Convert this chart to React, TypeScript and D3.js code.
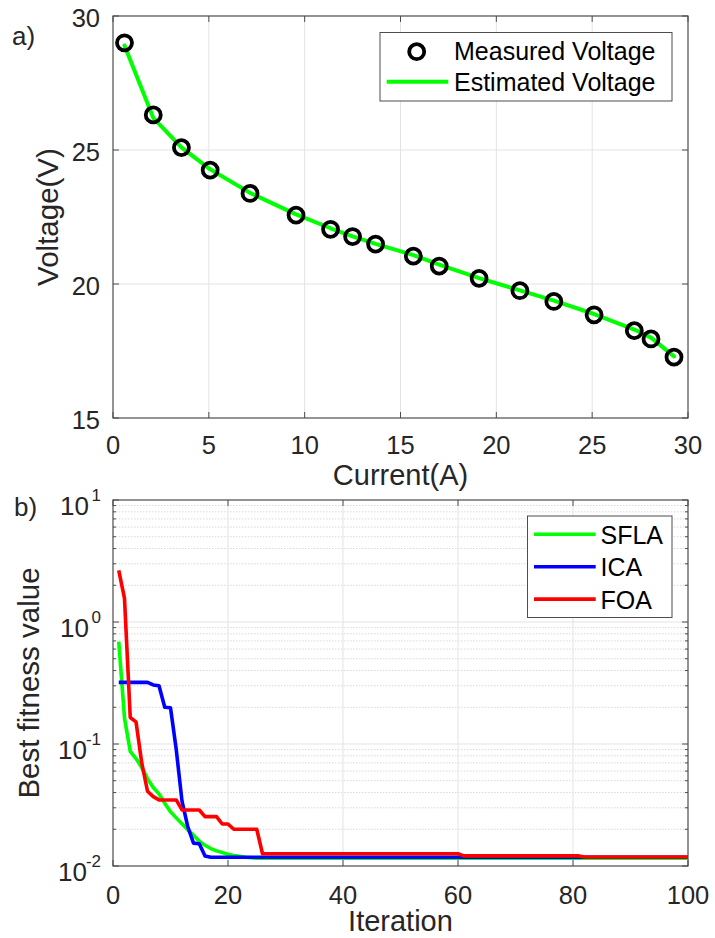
import React from "react";
import * as d3 from "d3";

// ---------- data: panel a ----------
const currentA = [0.6, 2.1, 3.57, 5.07, 7.15, 9.55, 11.35, 12.5, 13.7, 15.67, 17.02, 19.1, 21.23, 23.0, 25.1, 27.2, 28.07, 29.27];
const measuredVoltage = [29.0, 26.31, 25.09, 24.25, 23.38, 22.57, 22.04, 21.77, 21.49, 21.04, 20.67, 20.21, 19.75, 19.35, 18.85, 18.26, 17.95, 17.27];
const estimatedVoltage = [28.9, 26.2, 25.1, 24.28, 23.4, 22.6, 22.08, 21.78, 21.5, 21.08, 20.72, 20.22, 19.76, 19.38, 18.88, 18.3, 18.0, 17.3];
const xTicksA = [0, 5, 10, 15, 20, 25, 30];
const yTicksA = [15, 20, 25, 30];

// ---------- data: panel b ----------
const sfla = [0.69, 0.163, 0.087, 0.076, 0.064, 0.052, 0.044, 0.039, 0.0327, 0.0278, 0.0248, 0.0222, 0.0198, 0.0179, 0.016, 0.0148, 0.0139, 0.0133, 0.0129, 0.0125, 0.0122, 0.012, 0.0118, 0.0117]
  .concat(Array(76).fill(0.0116));
const ica = [0.32, 0.32, 0.32, 0.32, 0.32, 0.32, 0.305, 0.3, 0.2, 0.198, 0.09, 0.034, 0.021, 0.0154, 0.0152, 0.0121]
  .concat(Array(84).fill(0.0118));
const foa = [2.65, 1.56, 0.165, 0.152, 0.07, 0.041, 0.037, 0.0348, 0.0348, 0.0348, 0.0348, 0.0288, 0.0288, 0.0288, 0.0288, 0.0254, 0.0254, 0.0254, 0.0221, 0.0221, 0.02, 0.02, 0.02, 0.02, 0.02]
  .concat(Array(35).fill(0.0126))
  .concat(Array(21).fill(0.0121))
  .concat(Array(19).fill(0.01185));
const seriesB = [
  { name: "SFLA", values: sfla, color: "#00ff00" },
  { name: "ICA", values: ica, color: "#0000ff" },
  { name: "FOA", values: foa, color: "#ff0000" },
];
const xTicksB = [0, 20, 40, 60, 80, 100];
const yTicksB = [-2, -1, 0, 1];

const FONT = "'Liberation Sans', Arial, Helvetica, sans-serif";
const TXT = "#262626";
const AX = "#4d4d4d";
const GRID = "#e3e3e3";

export default function App() {
  // panel a scales
  const L = 113, R = 688;
  const xA = d3.scaleLinear().domain([0, 30]).range([L, R]);
  const yA = d3.scaleLinear().domain([15, 30]).range([418, 16]);
  const lineA = d3.line<number>().x((_, i) => xA(currentA[i])).y((v) => yA(v));

  // panel b scales
  const xB = d3.scaleLinear().domain([0, 100]).range([L, R]);
  const yB = d3.scaleLog().domain([0.01, 10]).range([866, 500]);
  const lineB = d3.line<number>().x((_, i) => xB(i + 1)).y((v) => yB(v));

  const minorVals: number[] = [];
  for (let e = -2; e < 1; e++) for (let m = 2; m <= 9; m++) minorVals.push(m * Math.pow(10, e));

  const tickLen = 6;

  return (
    <svg width={715} height={938} style={{ position: "absolute", left: 0, top: 0, background: "#fff" }} fontFamily={FONT}>
      <rect x={0} y={0} width={715} height={938} fill="#fff" />
      {/* ================= Panel a ================= */}
      <g>
        {xTicksA.slice(1, -1).map((t) => (
          <line key={"gx" + t} x1={xA(t)} x2={xA(t)} y1={yA(15)} y2={yA(30)} stroke={GRID} strokeWidth={1} />
        ))}
        {yTicksA.slice(1, -1).map((t) => (
          <line key={"gy" + t} x1={L} x2={R} y1={yA(t)} y2={yA(t)} stroke={GRID} strokeWidth={1} />
        ))}
        <rect x={L} y={yA(30)} width={R - L} height={yA(15) - yA(30)} fill="none" stroke={AX} strokeWidth={1.2} />
        {xTicksA.map((t) => (
          <g key={"tx" + t}>
            <line x1={xA(t)} x2={xA(t)} y1={yA(15)} y2={yA(15) - tickLen} stroke={AX} />
            <line x1={xA(t)} x2={xA(t)} y1={yA(30)} y2={yA(30) + tickLen} stroke={AX} />
            <text x={xA(t)} y={454} textAnchor="middle" fontSize={25.5} fill={TXT}>{t}</text>
          </g>
        ))}
        {yTicksA.map((t) => (
          <g key={"ty" + t}>
            <line x1={L} x2={L + tickLen} y1={yA(t)} y2={yA(t)} stroke={AX} />
            <line x1={R} x2={R - tickLen} y1={yA(t)} y2={yA(t)} stroke={AX} />
            <text x={100} y={yA(t) + 10.5} textAnchor="end" fontSize={25.5} fill={TXT}>{t}</text>
          </g>
        ))}
        <path d={lineA(estimatedVoltage) || ""} fill="none" stroke="#00ff00" strokeWidth={4} strokeLinejoin="round" strokeLinecap="round" />
        {measuredVoltage.map((v, i) => (
          <circle key={"m" + i} cx={xA(currentA[i])} cy={yA(v)} r={7.5} fill="none" stroke="#000" strokeWidth={3.8} />
        ))}
        <text x={400.5} y={484.5} textAnchor="middle" fontSize={29} fill={TXT}>Current(A)</text>
        <text transform={`translate(58,${(16 + 418) / 2}) rotate(-90)`} textAnchor="middle" fontSize={29.5} fill={TXT}>Voltage(V)</text>
        <text x={12} y={45} fontSize={26} fill={TXT}>a)</text>
        {/* legend */}
        <rect x={380} y={32.5} width={292} height={68.5} fill="#fff" stroke={AX} strokeWidth={1} />
        <circle cx={416.7} cy={51.7} r={7.5} fill="none" stroke="#000" strokeWidth={3.8} />
        <text x={454} y={60} fontSize={25} fill="#000">Measured Voltage</text>
        <line x1={386.7} x2={448.3} y1={81.7} y2={81.7} stroke="#00ff00" strokeWidth={4} />
        <text x={454} y={90.5} fontSize={25} fill="#000">Estimated Voltage</text>
      </g>

      {/* ================= Panel b ================= */}
      <g>
        {minorVals.map((v) => (
          <line key={"mg" + v} x1={L} x2={R} y1={yB(v)} y2={yB(v)} stroke="#d9d9d9" strokeWidth={1} strokeDasharray="1.5,1.5" />
        ))}
        {xTicksB.slice(1, -1).map((t) => (
          <line key={"gxb" + t} x1={xB(t)} x2={xB(t)} y1={866} y2={500} stroke={GRID} strokeWidth={1} />
        ))}
        {yTicksB.slice(1, -1).map((e) => (
          <line key={"gyb" + e} x1={L} x2={R} y1={yB(Math.pow(10, e))} y2={yB(Math.pow(10, e))} stroke={GRID} strokeWidth={1} />
        ))}
        <rect x={L} y={500} width={R - L} height={366} fill="none" stroke={AX} strokeWidth={1.2} />
        {xTicksB.map((t) => (
          <g key={"txb" + t}>
            <line x1={xB(t)} x2={xB(t)} y1={866} y2={866 - tickLen} stroke={AX} />
            <line x1={xB(t)} x2={xB(t)} y1={500} y2={500 + tickLen} stroke={AX} />
            <text x={xB(t)} y={903.5} textAnchor="middle" fontSize={25.5} fill={TXT}>{t}</text>
          </g>
        ))}
        {minorVals.map((v) => (
          <g key={"mt" + v}>
            <line x1={L} x2={L + 3} y1={yB(v)} y2={yB(v)} stroke={AX} />
            <line x1={R} x2={R - 3} y1={yB(v)} y2={yB(v)} stroke={AX} />
          </g>
        ))}
        {yTicksB.map((e) => {
          const y = yB(Math.pow(10, e));
          return (
            <g key={"tyb" + e}>
              <line x1={L} x2={L + tickLen} y1={y} y2={y} stroke={AX} />
              <line x1={R} x2={R - tickLen} y1={y} y2={y} stroke={AX} />
              <text x={101} y={y + 0.5} textAnchor="end" fontSize={17} fill={TXT}>{String(e)}</text>
              <text x={e < 0 ? 87 : 89} y={y + 14.5} textAnchor="end" fontSize={26} fill={TXT}>10</text>
            </g>
          );
        })}
        {seriesB.map((s) => (
          <path key={s.name} d={lineB(s.values) || ""} fill="none" stroke={s.color} strokeWidth={3.6} strokeLinejoin="round" />
        ))}
        <text x={400.5} y={931} textAnchor="middle" fontSize={29} fill={TXT}>Iteration</text>
        <text transform={`translate(39,683) rotate(-90)`} textAnchor="middle" fontSize={29.5} fill={TXT}>Best fitness value</text>
        <text x={14} y={516} fontSize={26} fill={TXT}>b)</text>
        {/* legend */}
        <rect x={527.5} y={516} width={144.5} height={101.5} fill="#fff" stroke={AX} strokeWidth={1} />
        {seriesB.map((s, i) => (
          <g key={"lg" + s.name}>
            <line x1={534} x2={595.7} y1={534.3 + i * 32.4} y2={534.3 + i * 32.4} stroke={s.color} strokeWidth={3.6} />
            <text x={600.5} y={544 + i * 32.4} fontSize={25} fill="#000">{s.name}</text>
          </g>
        ))}
      </g>
    </svg>
  );
}
